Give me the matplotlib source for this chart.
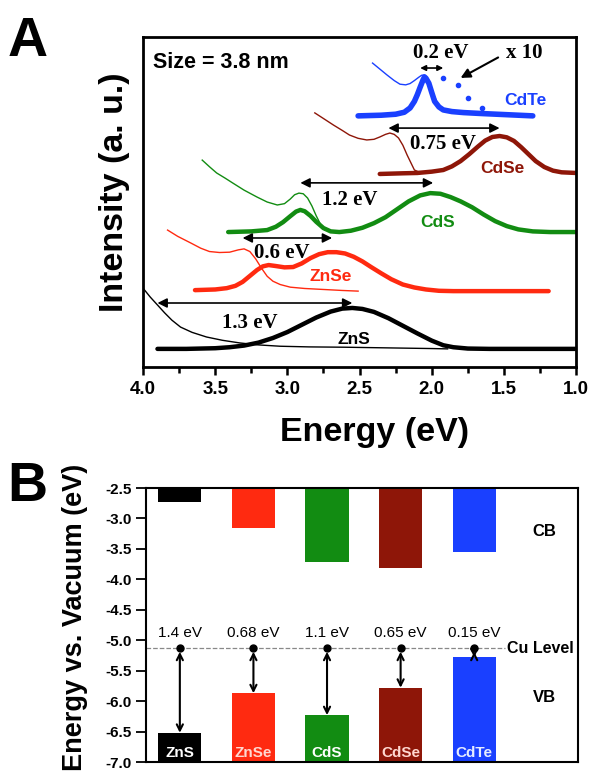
import numpy as np
import matplotlib.pyplot as plt

plt.rcParams['font.family'] = ['Liberation Sans', 'DejaVu Sans']

# ---- panel A: emission (thick) and absorption (thin) spectra, offset ----
zns_pl_e = [3.90, 3.70, 3.50, 3.40, 3.30, 3.20, 3.10, 3.00, 2.90, 2.80, 2.70, 2.62, 2.55, 2.48, 2.40,
            2.30, 2.20, 2.10, 2.00, 1.92, 1.85, 1.75, 1.60, 1.40, 1.20, 1.00]
zns_pl_i = [0.55, 0.55, 0.57, 0.60, 0.65, 0.74, 0.88, 1.06, 1.28, 1.50, 1.68, 1.77, 1.79, 1.76, 1.67,
            1.48, 1.25, 1.02, 0.80, 0.66, 0.60, 0.56, 0.55, 0.55, 0.55, 0.55]
zns_abs_e = [4.00, 3.95, 3.90, 3.85, 3.80, 3.74, 3.66, 3.56, 3.45, 3.33, 3.20, 3.05, 2.85, 2.60, 2.30, 2.00, 1.89]
zns_abs_i = [2.39, 2.12, 1.88, 1.64, 1.42, 1.21, 1.05, 0.91, 0.81, 0.73, 0.67, 0.63, 0.61, 0.60, 0.58, 0.56, 0.55]

znse_pl_e = [3.64, 3.50, 3.42, 3.36, 3.31, 3.26, 3.21, 3.17, 3.13, 3.08, 3.02, 2.96, 2.90, 2.84, 2.78, 2.72,
             2.66, 2.60, 2.54, 2.48, 2.42, 2.35, 2.28, 2.20, 2.12, 2.04, 1.95, 1.85, 1.60, 1.40, 1.19]
znse_pl_i = [2.33, 2.35, 2.39, 2.46, 2.58, 2.76, 2.94, 3.05, 3.09, 3.06, 3.02, 3.03, 3.14, 3.30, 3.42, 3.48,
             3.48, 3.44, 3.34, 3.20, 3.03, 2.84, 2.66, 2.50, 2.41, 2.35, 2.31, 2.30, 2.30, 2.30, 2.30]
znse_abs_e = [3.83, 3.76, 3.67, 3.60, 3.54, 3.47, 3.40, 3.34, 3.30, 3.26, 3.22, 3.18, 3.14, 3.10, 3.05,
              2.98, 2.88, 2.75, 2.62, 2.51]
znse_abs_i = [4.15, 3.96, 3.76, 3.60, 3.50, 3.47, 3.48, 3.55, 3.58, 3.50, 3.28, 3.00, 2.75, 2.60, 2.50,
              2.42, 2.38, 2.35, 2.32, 2.30]

cds_pl_e = [3.41, 3.25, 3.14, 3.08, 3.03, 2.98, 2.94, 2.91, 2.88, 2.84, 2.80, 2.75, 2.70, 2.64, 2.56, 2.48, 2.40,
            2.32, 2.24, 2.16, 2.08, 2.01, 1.94, 1.87, 1.80, 1.72, 1.64, 1.56, 1.48, 1.40, 1.30, 1.18, 1.00]
cds_pl_i = [4.09, 4.11, 4.15, 4.25, 4.39, 4.57, 4.71, 4.76, 4.72, 4.58, 4.40, 4.21, 4.11, 4.09, 4.13, 4.22, 4.36,
            4.54, 4.78, 5.02, 5.20, 5.27, 5.25, 5.15, 5.02, 4.84, 4.62, 4.42, 4.27, 4.17, 4.11, 4.09, 4.09]
cds_abs_e = [3.59, 3.54, 3.49, 3.43, 3.38, 3.30, 3.21, 3.14, 3.07, 3.02, 2.98, 2.95, 2.92, 2.89, 2.86,
             2.83, 2.80, 2.77, 2.74]
cds_abs_i = [6.27, 6.07, 5.88, 5.72, 5.58, 5.36, 5.15, 5.00, 4.91, 4.95, 5.09, 5.22, 5.27, 5.25, 5.12,
             4.88, 4.58, 4.32, 4.15]

cdse_pl_e = [2.36, 2.20, 2.10, 2.00, 1.92, 1.86, 1.80, 1.74, 1.68, 1.63, 1.58, 1.53, 1.48, 1.43, 1.38,
             1.33, 1.28, 1.22, 1.16, 1.10, 1.00]
cdse_pl_i = [5.85, 5.87, 5.88, 5.92, 5.97, 6.08, 6.24, 6.45, 6.68, 6.86, 6.97, 7.00, 6.96, 6.85, 6.66,
             6.45, 6.24, 6.06, 5.95, 5.90, 5.88]
cdse_abs_e = [2.81, 2.75, 2.68, 2.62, 2.57, 2.51, 2.45, 2.40, 2.36, 2.32, 2.29, 2.26, 2.23, 2.20, 2.17,
              2.14, 2.12, 2.09, 2.06]
cdse_abs_i = [7.70, 7.53, 7.33, 7.17, 7.03, 6.93, 6.88, 6.90, 6.97, 7.05, 7.09, 7.05, 6.94, 6.72, 6.42,
              6.15, 5.97, 5.91, 5.88]

cdte_pl_e = [2.51, 2.35, 2.25, 2.19, 2.15, 2.12, 2.10, 2.08, 2.06, 2.05, 2.04, 2.02, 2.00, 1.98, 1.95,
             1.92, 1.86, 1.78, 1.65, 1.50, 1.30]
cdte_pl_i = [7.61, 7.63, 7.66, 7.72, 7.85, 8.05, 8.25, 8.48, 8.70, 8.79, 8.75, 8.60, 8.32, 8.05, 7.88,
             7.79, 7.74, 7.71, 7.68, 7.65, 7.61]
cdte_abs_e = [2.41, 2.36, 2.31, 2.26, 2.22, 2.18, 2.15, 2.12, 2.09, 2.07, 2.05, 2.03, 2.01, 1.99, 1.96, 1.93, 1.90]
cdte_abs_i = [9.21, 9.03, 8.85, 8.68, 8.57, 8.55, 8.59, 8.68, 8.78, 8.84, 8.85, 8.76, 8.55, 8.28, 8.00, 7.86, 7.79]
cdte_x10_e = [1.92, 1.82, 1.75, 1.65]
cdte_x10_i = [8.76, 8.55, 8.15, 7.85]

# ---- panel B: band edges vs vacuum ----
materials = ['ZnS', 'ZnSe', 'CdS', 'CdSe', 'CdTe']
cb_edge = [-2.73, -3.16, -3.72, -3.81, -3.55]
vb_edge = [-6.52, -5.87, -6.23, -5.78, -5.28]
gap_labels = ['1.4 eV', '0.68 eV', '1.1 eV', '0.65 eV', '0.15 eV']
cu_level = -5.13

c_black, c_red, c_green, c_dred, c_blue = '#000000', '#ff2a10', '#128c12', '#8e1608', '#1a40ff'
bar_colors = [c_black, c_red, c_green, c_dred, c_blue]
label_colors = ['white', '#ffd8d0', 'white', '#ffd8d0', '#e6ecff']

fig = plt.figure(figsize=(5.92, 7.74), dpi=100)

# ================= A =================
ax = fig.add_axes([0.2416, 0.5258, 0.7315, 0.4264])
serif = 'Liberation Serif'

for e, i, c, w in [(zns_pl_e, zns_pl_i, c_black, 3.2), (znse_pl_e, znse_pl_i, c_red, 3.2),
                   (cds_pl_e, cds_pl_i, c_green, 3.2), (cdse_pl_e, cdse_pl_i, c_dred, 3.2),
                   (cdte_pl_e, cdte_pl_i, c_blue, 4.0)]:
    ax.plot(e, i, color=c, lw=w, solid_capstyle='round', solid_joinstyle='round')
for e, i, c in [(zns_abs_e, zns_abs_i, c_black), (znse_abs_e, znse_abs_i, c_red),
                (cds_abs_e, cds_abs_i, c_green), (cdse_abs_e, cdse_abs_i, c_dred),
                (cdte_abs_e, cdte_abs_i, c_blue)]:
    ax.plot(e, i, color=c, lw=1.0)
ax.plot(cdte_x10_e, cdte_x10_i, ls='none', marker='o', ms=3, color=c_blue)

arrows_a = [((3.90, 2.55), 1.94, 14), ((3.31, 2.69), 3.91, 14), ((2.91, 1.99), 5.58, 14),
            ((2.30, 1.53), 7.24, 14), ((2.08, 1.92), 9.06, 8)]
for (e1, e2), yy, ms in arrows_a:
    ax.annotate('', xy=(e2, yy), xytext=(e1, yy),
                arrowprops=dict(arrowstyle='<|-|>', color='black', lw=1.2,
                                mutation_scale=ms, shrinkA=0, shrinkB=0))

for txt, x, y in [('1.3 eV', 3.26, 1.33), ('0.6 eV', 3.04, 3.45), ('1.2 eV', 2.57, 5.06),
                  ('0.75 eV', 1.92, 6.76), ('0.2 eV', 1.94, 9.52), ('x 10', 1.36, 9.52)]:
    ax.text(x, y, txt, family=serif, fontweight='bold', fontsize=15,
            ha='center', va='center')
ax.annotate('', xy=(1.80, 8.76), xytext=(1.54, 9.38),
            arrowprops=dict(arrowstyle='-|>', color='black', lw=1.5,
                            mutation_scale=14, shrinkA=0, shrinkB=0))

for txt, x, y, c in [('ZnS', 2.54, 0.82, c_black), ('ZnSe', 2.70, 2.73, c_red),
                     ('CdS', 1.96, 4.39, c_green), ('CdSe', 1.51, 6.03, c_dred),
                     ('CdTe', 1.35, 8.09, c_blue)]:
    ax.text(x, y, txt, color=c, fontsize=12.5, fontweight='bold', ha='center', va='center')

ax.text(3.93, 9.24, 'Size = 3.8 nm', fontsize=15.5, fontweight='bold', ha='left', va='center')

ax.set_xlim(4.0, 1.0)
ax.set_ylim(0, 10)
ax.set_yticks([])
ax.set_xticks([4.0, 3.5, 3.0, 2.5, 2.0, 1.5, 1.0])
ax.set_xticks(np.arange(1.25, 4.0, 0.5), minor=True)
ax.set_xticklabels(['4.0', '3.5', '3.0', '2.5', '2.0', '1.5', '1.0'],
                   fontsize=13.5, fontweight='bold')
ax.tick_params(axis='x', which='major', length=6, width=1.8, pad=4)
ax.tick_params(axis='x', which='minor', length=4, width=1.8)
for s in ax.spines.values():
    s.set_linewidth(2)

fig.text(375 / 592, 1 - 433 / 774, 'Energy (eV)', fontsize=24.5, fontweight='bold',
         ha='center', va='center')
fig.text(115 / 592, 1 - 192 / 774, 'Intensity (a. u.)', fontsize=24.5, fontweight='bold',
         ha='center', va='center', rotation=90)
fig.text(28 / 592, 1 - 42 / 774, 'A', fontsize=40, fontweight='bold', ha='center', va='center')

# ================= B =================
bx = fig.add_axes([0.2466, 0.0155, 0.7297, 0.354])
pos = np.arange(len(materials))
bx.bar(pos, np.array(cb_edge) + 2.5, bottom=-2.5, width=0.585, color=bar_colors)
bx.bar(pos, np.array(vb_edge) + 7.0, bottom=-7.0, width=0.585, color=bar_colors)

bx.plot([-0.46, 4.42], [cu_level, cu_level], ls='--', color='#888888', lw=0.9, zorder=1)
bx.plot(pos, [cu_level] * len(pos), 'o', color='black', ms=5, zorder=4)
for p, v, g in zip(pos, vb_edge, gap_labels):
    bx.annotate('', xy=(p, v), xytext=(p, cu_level - 0.06),
                arrowprops=dict(arrowstyle='<->', color='black', lw=1.5,
                                mutation_scale=11, shrinkA=0, shrinkB=0), zorder=5)
    bx.text(p, -4.88, g, fontsize=11, ha='center', va='center')
for p, m, lc in zip(pos, materials, label_colors):
    bx.text(p, -6.86, m, color=lc, fontsize=11, fontweight='bold', ha='center', va='center')

bx.text(4.45, cu_level, 'Cu Level', fontsize=11.5, fontweight='bold', ha='left', va='center',
        clip_on=False)
bx.text(4.95, -3.22, 'CB', fontsize=12, fontweight='bold', ha='center', va='center')
bx.text(4.95, -5.94, 'VB', fontsize=12, fontweight='bold', ha='center', va='center')

bx.set_xlim(-0.46, 5.41)
bx.set_ylim(-7.0, -2.5)
bx.set_xticks([])
bx.set_yticks(np.arange(-7.0, -2.49, 0.5))
bx.set_yticklabels(['%.1f' % v for v in np.arange(-7.0, -2.49, 0.5)],
                   fontsize=11, fontweight='bold')
bx.tick_params(axis='y', length=7, width=1.3, pad=3)
for s in bx.spines.values():
    s.set_linewidth(1.5)

fig.text(75 / 592, 1 - 617 / 774, 'Energy vs. Vacuum (eV)', fontsize=19.5, fontweight='bold',
         ha='center', va='center', rotation=90)
fig.text(27 / 592, 1 - 487 / 774, 'B', fontsize=40, fontweight='bold', ha='center', va='center')

fig.savefig('out.png', dpi=100)
